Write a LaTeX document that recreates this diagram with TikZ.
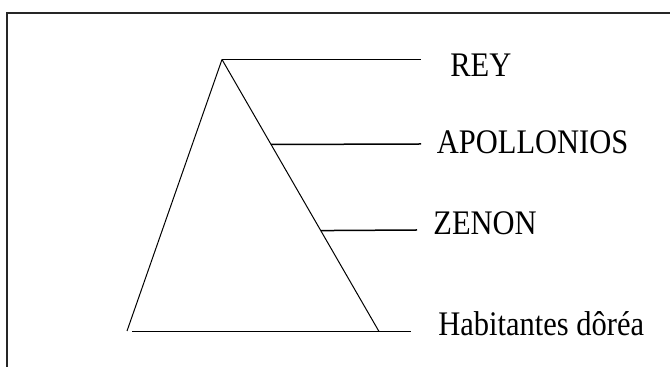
\documentclass[tikz,border=0pt]{standalone}
\usepackage{fontspec}
\usepackage{graphicx}
\usetikzlibrary{calc}
\setmainfont{Liberation Serif}
\begin{document}
\begin{tikzpicture}[x=0.5pt,y=-0.5pt,
  frame/.style={line width=1pt,black!85},
  side/.style={line width=0.5pt},
  branch/.style={line width=0.75pt},
  lbl/.style={anchor=base west,inner sep=0pt,font=\fontsize{15.25}{18}\selectfont}]
\useasboundingbox (0,0) rectangle (670,367);
% frame (top and left edges only)
\draw[frame] (7,367) -- (7,13.5) -- (670,13.5);
% triangle vertices
\coordinate (apex) at (222,59.5);
\coordinate (bl) at (127,331);
\coordinate (bl2) at (132,331.5);
\coordinate (br) at (379,331.5);
\coordinate (pA) at ($(apex)!0.3125!(br)$);
\coordinate (pZ) at ($(apex)!0.629!(br)$);
\draw[side] (apex) -- (bl);
\draw[side] (apex) -- (br);
\draw[branch] (bl2) -- (br);
% branch end points
\coordinate (eR) at (421,59.5);
\coordinate (eA) at (421,144);
\coordinate (eZ) at (417,230);
\coordinate (eH) at (411,331.5);
\draw[branch] (apex) -- (eR);
\draw[branch] (pA) -- (eA);
\draw[branch] (pZ) -- (eZ);
\draw[branch] (br) -- (eH);
% labels
\node[lbl] (rey) at (450,76.5) {\scalebox{1}[1.13]{REY}};
\node[lbl] (apo) at (436.5,153.5) {\scalebox{1}[1.13]{APOLLONIOS}};
\node[lbl] (zen) at (433,235) {\scalebox{1}[1.13]{ZENON}};
\node[lbl] (hab) at (438,336) {\scalebox{1}[1.13]{Habitantes dôréa}};
\end{tikzpicture}
\end{document}
